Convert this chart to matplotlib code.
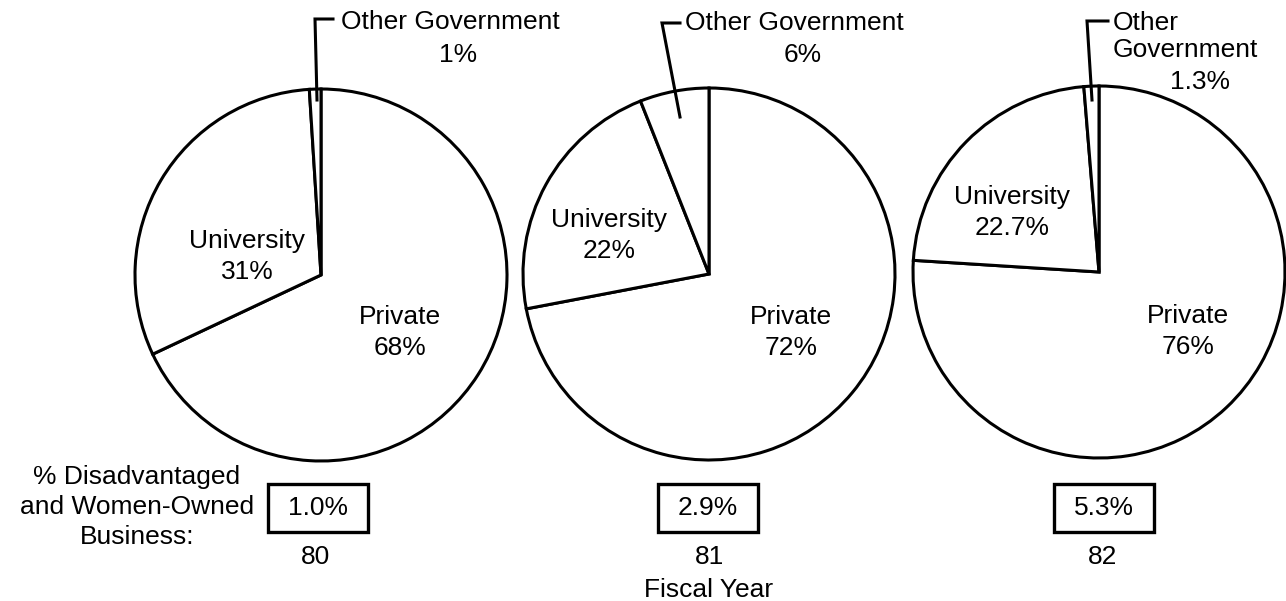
import matplotlib.pyplot as plt
import matplotlib.patches as mpatches

# data
years = ['80', '81', '82']
private = [68, 72, 76]
university = [31, 22, 22.7]
other_gov = [1, 6, 1.3]
private_lbl = ['68%', '72%', '76%']
university_lbl = ['31%', '22%', '22.7%']
other_lbl = ['1%', '6%', '1.3%']
disadvantaged = ['1.0%', '2.9%', '5.3%']

W, H = 1286, 601
plt.rcParams['font.family'] = ['Liberation Sans', 'DejaVu Sans']
FS = 19

fig = plt.figure(figsize=(W / 100, H / 100), dpi=100)
ax = fig.add_axes([0, 0, 1, 1])


def Y(y):
    # pixel row (top-down) -> data y
    return H - y


centers = [(321, 275), (709, 274), (1099, 272)]
R = 186

for i in range(3):
    cx, cy = centers[i]
    ax.pie([private[i], university[i], other_gov[i]], startangle=90, counterclock=False,
           center=(cx, Y(cy)), radius=R,
           wedgeprops=dict(facecolor='white', edgecolor='black', linewidth=2.2))

# labels inside slices
univ_pos = [(247, 241), (609, 220), (1012, 197)]
priv_pos = [(400, 317), (791, 317), (1188, 316)]
for i in range(3):
    ux, uy = univ_pos[i]
    ax.text(ux, Y(uy), 'University', ha='center', va='center', fontsize=FS)
    ax.text(ux, Y(uy + 31), university_lbl[i], ha='center', va='center', fontsize=FS)
    px, py = priv_pos[i]
    ax.text(px, Y(py), 'Private', ha='center', va='center', fontsize=FS)
    ax.text(px, Y(py + 31), private_lbl[i], ha='center', va='center', fontsize=FS)

# Other Government callouts
lw = 2.2
ax.plot([317, 315, 333], [Y(100), Y(19), Y(19)], color='black', lw=lw, solid_joinstyle='miter')
ax.text(341, Y(22), 'Other Government', ha='left', va='center', fontsize=FS)
ax.text(458, Y(55), other_lbl[0], ha='center', va='center', fontsize=FS)

ax.plot([680, 662, 680], [Y(117), Y(23), Y(23)], color='black', lw=lw, solid_joinstyle='miter')
ax.text(685, Y(23), 'Other Government', ha='left', va='center', fontsize=FS)
ax.text(803, Y(55), other_lbl[1], ha='center', va='center', fontsize=FS)

ax.plot([1092, 1087, 1108], [Y(100), Y(21), Y(21)], color='black', lw=lw, solid_joinstyle='miter')
ax.text(1113, Y(23), 'Other', ha='left', va='center', fontsize=FS)
ax.text(1113, Y(50), 'Government', ha='left', va='center', fontsize=FS)
ax.text(1200, Y(82), other_lbl[2], ha='center', va='center', fontsize=FS)

# disadvantaged boxes and years
box_x = [318, 708, 1104]
year_x = [315, 710, 1103]
for i in range(3):
    ax.add_patch(mpatches.Rectangle((box_x[i] - 50, Y(532)), 100, 48, facecolor='white',
                                    edgecolor='black', linewidth=2.4))
    ax.text(box_x[i], Y(508), disadvantaged[i], ha='center', va='center', fontsize=FS)
    ax.text(year_x[i], Y(557), years[i], ha='center', va='center', fontsize=FS)

ax.text(137, Y(507), '% Disadvantaged\nand Women-Owned\nBusiness:', ha='center', va='center',
        fontsize=FS, linespacing=1.3, multialignment='center')
ax.text(709, Y(590), 'Fiscal Year', ha='center', va='center', fontsize=FS)

ax.set_xlim(0, W)
ax.set_ylim(0, H)
ax.set_aspect('auto')
ax.axis('off')

fig.savefig('out.png', dpi=100)
